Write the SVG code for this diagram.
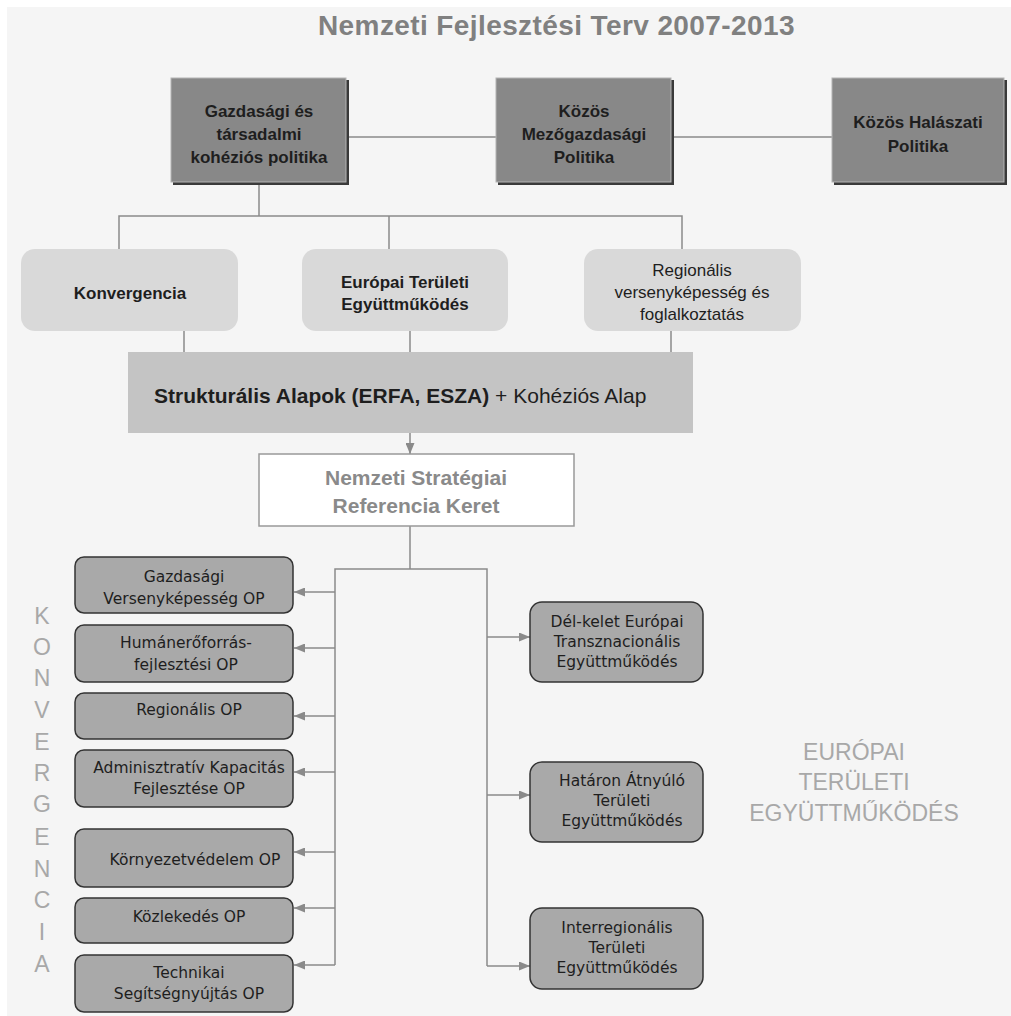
<svg xmlns="http://www.w3.org/2000/svg" width="1011" height="1016" viewBox="0 0 1011 1016">
<style>
.bg{fill:#f5f5f5}
.title{font-family:"Liberation Sans",Arial,sans-serif;font-weight:bold;font-size:28px;fill:#808080;letter-spacing:0.4px}
.top{fill:#888888;stroke:#b4b4b4;stroke-width:1}
.topsh{fill:#3a3a3a}
.toptx{font-family:"Liberation Sans",Arial,sans-serif;font-weight:bold;font-size:17px;fill:#1e1e1e;text-anchor:middle}
.mid{fill:#d9d9d9}
.midb{font-family:"Liberation Sans",Arial,sans-serif;font-weight:bold;font-size:17px;fill:#1e1e1e;text-anchor:middle}
.midr{font-family:"Liberation Sans",Arial,sans-serif;font-size:17px;fill:#1e1e1e;text-anchor:middle}
.bar{fill:#c4c4c4}
.bartx{font-family:"Liberation Sans",Arial,sans-serif;font-size:21px;fill:#1e1e1e}
.nsrk{fill:#ffffff;stroke:#999999;stroke-width:1.5}
.nsrktx{font-family:"Liberation Sans",Arial,sans-serif;font-weight:bold;font-size:21px;fill:#8a8a8a;text-anchor:middle}
.op{fill:#a9a9a9;stroke:#333333;stroke-width:1.5}
.optx{font-family:"DejaVu Sans",sans-serif;font-size:15.5px;fill:#1e1e1e;text-anchor:middle}
.side{font-family:"Liberation Sans",Arial,sans-serif;font-size:23px;fill:#a8a8a8;text-anchor:middle}
.ln{fill:none;stroke:#8a8a8a;stroke-width:1.5}
.ar{fill:none;stroke:#8a8a8a;stroke-width:1.5;marker-end:url(#ah)}
</style>
<defs>
<marker id="ah" markerUnits="userSpaceOnUse" markerWidth="11" markerHeight="9" refX="11" refY="4.5" orient="auto">
<path d="M0,0 L11,4.5 L0,9 z" fill="#8a8a8a"/>
</marker>
</defs>
<rect class="bg" x="7" y="7" width="1004" height="1009"/>
<text class="title" x="318" y="35">Nemzeti Fejlesztési Terv 2007-2013</text>

<g id="connectors">
<path class="ln" d="M347,137 H496 M672,137 H832"/>
<path class="ln" d="M259,183 V216 M119,249 V216 H682 V249 M389,216 V249"/>
<path class="ln" d="M184,331 V352 M410,331 V352 M671,331 V352"/>
<path class="ar" d="M410,433 V454"/>
<path class="ln" d="M410,526 V569 M335,965 V569 H487 V966"/>
<path class="ar" d="M335,592 H294"/>
<path class="ar" d="M335,648 H294"/>
<path class="ar" d="M335,716 H294"/>
<path class="ar" d="M335,772 H294"/>
<path class="ar" d="M335,852 H294"/>
<path class="ar" d="M335,908 H294"/>
<path class="ar" d="M335,965 H294"/>
<path class="ar" d="M487,637 H530"/>
<path class="ar" d="M487,795 H530"/>
<path class="ar" d="M487,966 H530"/>
</g>

<g id="n-gazdasagi">
<rect class="topsh" x="173" y="80" width="176" height="105"/>
<rect class="top" x="171" y="78" width="175" height="104"/>
<text class="toptx" x="259" y="117">Gazdasági és</text>
<text class="toptx" x="259" y="140">társadalmi</text>
<text class="toptx" x="259" y="163">kohéziós politika</text>
</g>
<g id="n-mezogazdasagi">
<rect class="topsh" x="498" y="80" width="176" height="105"/>
<rect class="top" x="496" y="78" width="175" height="104"/>
<text class="toptx" x="584" y="117">Közös</text>
<text class="toptx" x="584" y="140">Mezőgazdasági</text>
<text class="toptx" x="584" y="163">Politika</text>
</g>
<g id="n-halaszati">
<rect class="topsh" x="834" y="80" width="173" height="105"/>
<rect class="top" x="832" y="78" width="172" height="104"/>
<text class="toptx" x="918" y="128">Közös Halászati</text>
<text class="toptx" x="918" y="152">Politika</text>
</g>

<g id="n-konvergencia">
<rect class="mid" x="21" y="249" width="217" height="82" rx="14"/>
<text class="midb" x="130" y="299">Konvergencia</text>
</g>
<g id="n-ete">
<rect class="mid" x="302" y="249" width="206" height="82" rx="14"/>
<text class="midb" x="405" y="288">Európai Területi</text>
<text class="midb" x="405" y="310">Együttműködés</text>
</g>
<g id="n-regionalis">
<rect class="mid" x="584" y="249" width="217" height="82" rx="14"/>
<text class="midr" x="692" y="276">Regionális</text>
<text class="midr" x="692" y="298">versenyképesség és</text>
<text class="midr" x="692" y="320">foglalkoztatás</text>
</g>

<g id="n-strukturalis">
<rect class="bar" x="128" y="352" width="565" height="81"/>
<text class="bartx" x="154" y="403"><tspan font-weight="bold">Strukturális Alapok (ERFA, ESZA)</tspan> + Kohéziós Alap</text>
</g>

<g id="n-nsrk">
<rect class="nsrk" x="259" y="454" width="315" height="72"/>
<text class="nsrktx" x="416" y="485">Nemzeti Stratégiai</text>
<text class="nsrktx" x="416" y="513">Referencia Keret</text>
</g>

<g id="n-gvop">
<rect class="op" x="75" y="557" width="218" height="56" rx="9"/>
<text class="optx" x="184" y="582">Gazdasági</text>
<text class="optx" x="184" y="604">Versenyképesség OP</text>
</g>
<g id="n-hefop">
<rect class="op" x="75" y="625" width="218" height="57" rx="9"/>
<text class="optx" x="186" y="648">Humánerőforrás-</text>
<text class="optx" x="186" y="670">fejlesztési OP</text>
</g>
<g id="n-rop">
<rect class="op" x="75" y="693" width="218" height="46" rx="9"/>
<text class="optx" x="189" y="715">Regionális OP</text>
</g>
<g id="n-akf">
<rect class="op" x="75" y="750" width="218" height="57" rx="9"/>
<text class="optx" x="189" y="773">Adminisztratív Kapacitás</text>
<text class="optx" x="189" y="794">Fejlesztése OP</text>
</g>
<g id="n-kop">
<rect class="op" x="75" y="829" width="218" height="58" rx="9"/>
<text class="optx" x="195" y="865">Környezetvédelem OP</text>
</g>
<g id="n-kozl">
<rect class="op" x="75" y="898" width="218" height="45" rx="9"/>
<text class="optx" x="189" y="922">Közlekedés OP</text>
</g>
<g id="n-tsop">
<rect class="op" x="75" y="955" width="218" height="57" rx="9"/>
<text class="optx" x="189" y="978">Technikai</text>
<text class="optx" x="189" y="999">Segítségnyújtás OP</text>
</g>

<g id="n-delkelet">
<rect class="op" x="530" y="602" width="173" height="80" rx="12"/>
<text class="optx" x="617" y="627">Dél-kelet Európai</text>
<text class="optx" x="617" y="647">Transznacionális</text>
<text class="optx" x="617" y="667">Együttműködés</text>
</g>
<g id="n-hataron">
<rect class="op" x="530" y="762" width="173" height="80" rx="12"/>
<text class="optx" x="622" y="786">Határon Átnyúló</text>
<text class="optx" x="622" y="806">Területi</text>
<text class="optx" x="622" y="826">Együttműködés</text>
</g>
<g id="n-interreg">
<rect class="op" x="530" y="908" width="173" height="81" rx="12"/>
<text class="optx" x="617" y="933">Interregionális</text>
<text class="optx" x="617" y="953">Területi</text>
<text class="optx" x="617" y="973">Együttműködés</text>
</g>

<g id="label-konvergencia">
<text class="side" x="42" y="624">K</text>
<text class="side" x="42" y="655">O</text>
<text class="side" x="42" y="686">N</text>
<text class="side" x="42" y="718">V</text>
<text class="side" x="42" y="750">E</text>
<text class="side" x="42" y="781">R</text>
<text class="side" x="42" y="812">G</text>
<text class="side" x="42" y="845">E</text>
<text class="side" x="42" y="877">N</text>
<text class="side" x="42" y="908">C</text>
<text class="side" x="42" y="940">I</text>
<text class="side" x="42" y="972">A</text>
</g>
<g id="label-ete">
<text class="side" x="854" y="760" font-size="24">EURÓPAI</text>
<text class="side" x="854" y="790" font-size="24">TERÜLETI</text>
<text class="side" x="854" y="821" font-size="24">EGYÜTTMŰKÖDÉS</text>
</g>
</svg>
